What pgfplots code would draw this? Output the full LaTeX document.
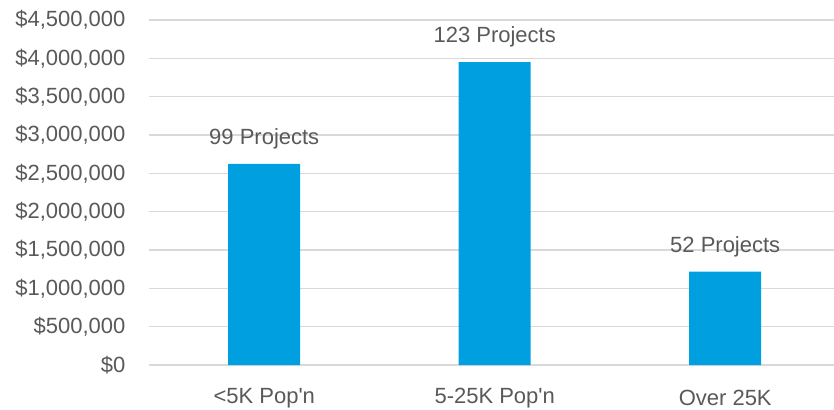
\documentclass[border=0pt]{standalone}
\usepackage{pgfplots}
\pgfplotsset{compat=1.18}
\usepackage{pgfplotstable}
\usepackage{fontspec}
\setmainfont{Liberation Sans}[Ligatures=TeXOff]
\definecolor{barblue}{HTML}{009FDF}
\definecolor{gridgray}{HTML}{D9D9D9}
\definecolor{textgray}{HTML}{595959}
\newcommand{\chartfont}{\fontsize{22}{26}\selectfont\color{textgray}}

\pgfplotstableread{
x  amount   projects
0  2622000  99
1  3949000  123
2  1217000  52
}\fundingdata

\begin{document}
\begin{tikzpicture}
\begin{axis}[
  at={(0,0)}, anchor=south west,
  scale only axis,
  width=685pt, height=345pt,
  xmin=-0.5, xmax=2.472,
  ymin=0, ymax=4500000,
  ytick={0,500000,...,4500000},
  xtick={0,1,2},
  xticklabels={<5K Pop'n, 5-25K Pop'n, Over 25K},
  axis line style={draw=none},
  axis x line*=bottom,
  axis y line*=left,
  tick style={draw=none},
  ymajorgrids,
  grid style={gridgray, line width=1.3pt},
  font=\chartfont,
  ticklabel style={font=\chartfont},
  /pgf/number format/assume math mode=true,
  scaled y ticks=false,
  yticklabel={\$\pgfmathprintnumber[fixed, precision=0, 1000 sep={,}]{\tick}},
  yticklabel style={xshift=-20pt},
  xticklabel style={anchor=center, yshift=-33pt},
  bar width=72pt,
  clip=false,
]
\addplot[ybar, fill=barblue, draw=none,
  nodes near coords={\pgfmathprintnumber[fixed,precision=0]{\pgfplotspointmeta} Projects},
  point meta=explicit,
  every node near coord/.append style={font=\chartfont, anchor=center, yshift=25pt},
] table[x=x, y=amount, meta=projects] {\fundingdata};
\end{axis}
\pgfresetboundingbox
\path (-149pt,-44pt) rectangle (685pt,365pt);
\end{tikzpicture}
\end{document}
